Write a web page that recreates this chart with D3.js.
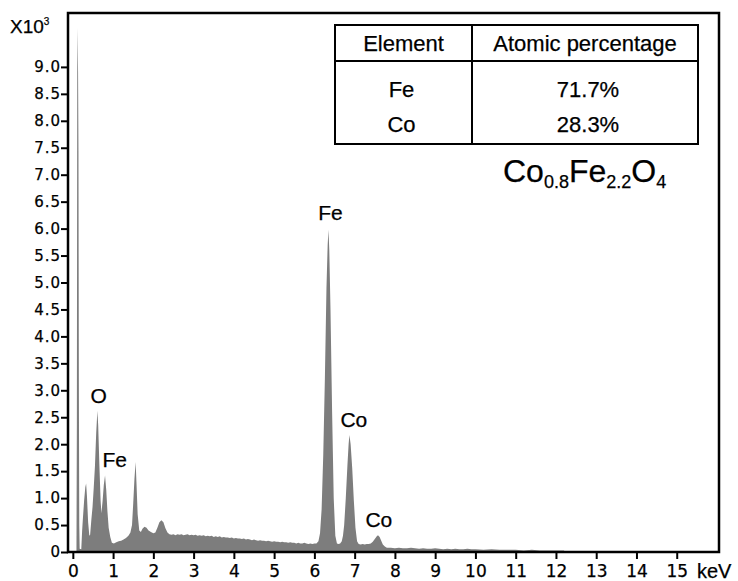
<!DOCTYPE html>
<html>
<head>
<meta charset="utf-8">
<script src="https://cdn.jsdelivr.net/npm/d3@7"></script>
<style>
  body { margin: 0; background: #fff; }
  svg { display: block; font-family: "Liberation Sans", Arial, sans-serif; }
  svg text { fill: #000; stroke: #000; stroke-width: 0.25px; }
</style>
</head>
<body>
<svg id="chart" width="738" height="581"></svg>
<script>
// EDS spectrum, counts in thousands (x10^3) against energy in keV
const spectrum = [
  [0.00, 0], [0.09, 0], [0.10, 2.4], [0.11, 8.9], [0.12, 9.72], [0.13, 8.9], [0.14, 7.45],
  [0.15, 3.1], [0.16, 0.5], [0.17, 0.06], [0.21, 0.05], [0.23, 0.38], [0.25, 0.62],
  [0.28, 0.95], [0.31, 1.2], [0.33, 1.27], [0.35, 1.05], [0.38, 0.55], [0.41, 0.3],
  [0.43, 0.32], [0.46, 0.6], [0.49, 0.84], [0.52, 1.2], [0.55, 1.6], [0.58, 2.2],
  [0.61, 2.62], [0.63, 2.35], [0.66, 1.6], [0.69, 0.95], [0.71, 0.72], [0.74, 0.95],
  [0.77, 1.25], [0.80, 1.42], [0.83, 1.15], [0.86, 0.75], [0.89, 0.45], [0.93, 0.28],
  [0.97, 0.17], [1.02, 0.16], [1.08, 0.18], [1.14, 0.2], [1.20, 0.21], [1.26, 0.23],
  [1.32, 0.26], [1.38, 0.3], [1.43, 0.36], [1.47, 0.5], [1.50, 0.9], [1.53, 1.35],
  [1.56, 1.67], [1.58, 1.3], [1.61, 0.7], [1.65, 0.4], [1.69, 0.37], [1.73, 0.43],
  [1.78, 0.47], [1.83, 0.45], [1.88, 0.4], [1.94, 0.37], [2.00, 0.35], [2.05, 0.36],
  [2.10, 0.45], [2.15, 0.55], [2.20, 0.59], [2.25, 0.55], [2.30, 0.44], [2.35, 0.36],
  [2.40, 0.33], [2.45, 0.32], [2.50, 0.33], [2.55, 0.31], [2.60, 0.33], [2.65, 0.32],
  [2.70, 0.33], [2.75, 0.31], [2.80, 0.32], [2.85, 0.33], [2.90, 0.31], [2.95, 0.32],
  [3.00, 0.31], [3.05, 0.32], [3.10, 0.30], [3.15, 0.31], [3.20, 0.30], [3.25, 0.31],
  [3.30, 0.29], [3.35, 0.30], [3.40, 0.29], [3.45, 0.30], [3.50, 0.28], [3.55, 0.29],
  [3.60, 0.28], [3.65, 0.29], [3.70, 0.27], [3.75, 0.28], [3.80, 0.27], [3.85, 0.27],
  [3.90, 0.26], [3.95, 0.27], [4.00, 0.25], [4.05, 0.26], [4.10, 0.25], [4.15, 0.25],
  [4.20, 0.24], [4.25, 0.25], [4.30, 0.23], [4.35, 0.24], [4.40, 0.23], [4.45, 0.22],
  [4.50, 0.23], [4.55, 0.22], [4.60, 0.21], [4.65, 0.22], [4.70, 0.21], [4.75, 0.21],
  [4.80, 0.20], [4.85, 0.21], [4.90, 0.20], [4.95, 0.19], [5.00, 0.20], [5.05, 0.19],
  [5.10, 0.19], [5.15, 0.18], [5.20, 0.19], [5.25, 0.18], [5.30, 0.18], [5.35, 0.17],
  [5.40, 0.18], [5.45, 0.17], [5.50, 0.17], [5.55, 0.16], [5.60, 0.17], [5.65, 0.16],
  [5.70, 0.16], [5.75, 0.17], [5.80, 0.16], [5.85, 0.15], [5.90, 0.16], [5.95, 0.15],
  [6.00, 0.16], [6.05, 0.16], [6.10, 0.2], [6.14, 0.35], [6.18, 0.8], [6.22, 1.8],
  [6.26, 3.2], [6.30, 4.9], [6.33, 5.7], [6.35, 5.98], [6.37, 5.6], [6.40, 4.5],
  [6.44, 2.6], [6.48, 1.0], [6.52, 0.3], [6.56, 0.16], [6.60, 0.15], [6.64, 0.16],
  [6.68, 0.2], [6.71, 0.3], [6.74, 0.5], [6.78, 1.0], [6.82, 1.6], [6.85, 2.0],
  [6.87, 2.17], [6.90, 2.0], [6.94, 1.55], [6.98, 0.95], [7.02, 0.45], [7.06, 0.2],
  [7.10, 0.15], [7.15, 0.14], [7.20, 0.15], [7.25, 0.14], [7.30, 0.15], [7.35, 0.15],
  [7.40, 0.16], [7.45, 0.19], [7.50, 0.24], [7.55, 0.29], [7.58, 0.31], [7.62, 0.28],
  [7.66, 0.21], [7.70, 0.14], [7.75, 0.1], [7.80, 0.08], [7.90, 0.08], [8.00, 0.07],
  [8.10, 0.08], [8.20, 0.07], [8.30, 0.07], [8.40, 0.08], [8.50, 0.07], [8.60, 0.06],
  [8.70, 0.07], [8.80, 0.06], [8.90, 0.06], [9.00, 0.07], [9.10, 0.06], [9.20, 0.05],
  [9.30, 0.06], [9.40, 0.05], [9.50, 0.06], [9.60, 0.05], [9.70, 0.05], [9.80, 0.06],
  [9.90, 0.05], [10.0, 0.05], [10.2, 0.04], [10.4, 0.05], [10.6, 0.04], [10.8, 0.04],
  [11.0, 0.04], [11.2, 0.03], [11.4, 0.04], [11.6, 0.03], [11.8, 0.03], [12.0, 0.03],
  [12.2, 0.03], [12.22, 0]
];

const xTicks = d3.range(0, 16);
const yTicks = [0, 0.5, 1, 1.5, 2, 2.5, 3, 3.5, 4, 4.5, 5, 5.5, 6, 6.5, 7, 7.5, 8, 8.5, 9];
const yTickLabels = ['0', '0.5', '1.0', '1.5', '2.0', '2.5', '3.0', '3.5', '4.0', '4.5',
  '5.0', '5.5', '6.0', '6.5', '7.0', '7.5', '8.0', '8.5', '9.0'];

// peak labels, anchored at (keV, counts) of the text baseline centre
const peakNames = ['O', 'Fe', 'Fe', 'Co', 'Co'];
const peakEnergy = [0.64, 1.04, 6.40, 6.98, 7.60];
const peakCount = [2.76, 1.57, 6.16, 2.32, 0.46];

const tableHeader = ['Element', 'Atomic percentage'];
const elements = ['Fe', 'Co'];
const atomicPct = ['71.7%', '28.3%'];

const margin = { top: 13, right: 19, bottom: 29, left: 68 };
const width = 738 - margin.left - margin.right;
const height = 581 - margin.top - margin.bottom;

const svg = d3.select('#chart');
const g = svg.append('g').attr('transform', `translate(${margin.left},${margin.top})`);

const x = d3.scaleLinear().domain([-0.12, 16.05]).range([0, width]);
const y = d3.scaleLinear().domain([0, 10]).range([height, 0]);

const area = d3.area()
  .x(d => x(d[0]))
  .y0(height)
  .y1(d => y(d[1]));

g.append('path')
  .datum(spectrum)
  .attr('d', area)
  .attr('fill', '#7d7d7d');

// x axis
const xAxis = g.append('g')
  .attr('transform', `translate(0,${height})`)
  .call(d3.axisBottom(x).tickValues(xTicks).tickSize(7).tickPadding(6).tickFormat(d3.format('d')));
xAxis.select('.domain').remove();
xAxis.selectAll('line').attr('stroke', '#000').attr('stroke-width', 2);
xAxis.selectAll('text')
  .style('font-family', '"DejaVu Sans", sans-serif')
  .style('font-size', '17px');

// y axis
const yAxis = g.append('g')
  .call(d3.axisLeft(y).tickValues(yTicks).tickSize(7).tickPadding(0)
    .tickFormat((d, i) => yTickLabels[i]));
yAxis.select('.domain').remove();
yAxis.selectAll('line').attr('stroke', '#000').attr('stroke-width', 2);
yAxis.selectAll('text')
  .style('font-family', '"DejaVu Sans", sans-serif')
  .style('font-size', '15px')
  .style('letter-spacing', '1px');

// frame
g.append('rect')
  .attr('width', width)
  .attr('height', height)
  .attr('fill', 'none')
  .attr('stroke', '#000')
  .attr('stroke-width', 2.5);

// peak labels
g.selectAll('.peak')
  .data(peakNames)
  .enter().append('text')
  .attr('class', 'peak')
  .attr('x', (d, i) => x(peakEnergy[i]))
  .attr('y', (d, i) => y(peakCount[i]))
  .attr('text-anchor', 'middle')
  .style('font-size', '21px')
  .text(d => d);

// axis titles
const unit = svg.append('text')
  .attr('x', 10)
  .attr('y', 33)
  .style('font-size', '19px');
unit.append('tspan').text('X10');
unit.append('tspan').attr('dy', -8).style('font-size', '10px').text('3');

svg.append('text')
  .attr('x', 697)
  .attr('y', 578)
  .style('font-size', '20px')
  .text('keV');

// composition table
const tbl = svg.append('g');
const tx0 = 335, tx1 = 472, tx2 = 698, ty0 = 25, ty1 = 61, ty2 = 144;
tbl.append('rect')
  .attr('x', tx0).attr('y', ty0)
  .attr('width', tx2 - tx0).attr('height', ty2 - ty0)
  .attr('fill', '#fff').attr('stroke', '#000').attr('stroke-width', 2);
tbl.append('line').attr('x1', tx0).attr('x2', tx2).attr('y1', ty1).attr('y2', ty1)
  .attr('stroke', '#000').attr('stroke-width', 2);
tbl.append('line').attr('x1', tx1).attr('x2', tx1).attr('y1', ty0).attr('y2', ty2)
  .attr('stroke', '#000').attr('stroke-width', 2);

const colX = [(tx0 + tx1) / 2, (tx1 + tx2) / 2];
tbl.selectAll('.hdr')
  .data(tableHeader)
  .enter().append('text')
  .attr('x', (d, i) => colX[i])
  .attr('y', 51)
  .attr('text-anchor', 'middle')
  .style('font-size', '22px')
  .text(d => d);

const rowY = [96.5, 131.5];
elements.forEach((el, i) => {
  tbl.append('text')
    .attr('x', colX[0] - 2).attr('y', rowY[i])
    .attr('text-anchor', 'middle')
    .style('font-size', '22px')
    .text(el);
  tbl.append('text')
    .attr('x', colX[1] + 3).attr('y', rowY[i])
    .attr('text-anchor', 'middle')
    .style('font-size', '22px')
    .text(atomicPct[i]);
});

// formula
const formula = svg.append('text')
  .attr('x', 503)
  .attr('y', 182)
  .style('font-size', '32px');
formula.append('tspan').text('Co');
formula.append('tspan').attr('dy', 6).style('font-size', '18px').text('0.8');
formula.append('tspan').attr('dy', -6).text('Fe');
formula.append('tspan').attr('dy', 6).style('font-size', '18px').text('2.2');
formula.append('tspan').attr('dy', -6).text('O');
formula.append('tspan').attr('dy', 6).style('font-size', '18px').text('4');
</script>
</body>
</html>
